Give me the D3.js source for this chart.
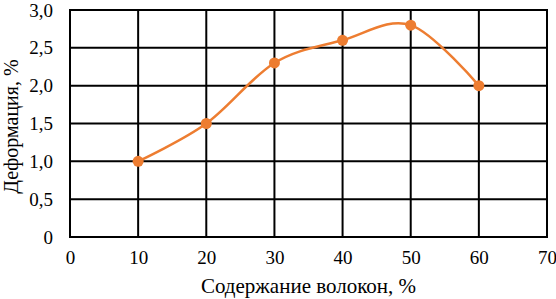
<!DOCTYPE html>
<html><head><meta charset="utf-8">
<script src="https://cdn.jsdelivr.net/npm/d3@7/dist/d3.min.js"></script>
</head><body style="margin:0;background:#fff">
<svg id="c" width="556" height="299"></svg>
<script>
const xValues = [10, 20, 30, 40, 50, 60];
const yValues = [1.0, 1.5, 2.3, 2.6, 2.8, 2.0];
const xTicks = [0, 10, 20, 30, 40, 50, 60, 70];
const yTicks = [0, 0.5, 1.0, 1.5, 2.0, 2.5, 3.0];
const xTitle = "Содержание волокон, %";
const yTitle = "Деформация, %";

const FONT = '"Liberation Serif", "Times New Roman", serif';
const svg = d3.select("#c");
const m = {l: 70, r: 9, t: 10, b: 62};
const W = 556, H = 299;
const x = d3.scaleLinear().domain([0, 70]).range([m.l, W - m.r]);
const y = d3.scaleLinear().domain([0, 3]).range([H - m.b, m.t]);
const fmt = v => v === 0 ? "0" : d3.format(".1f")(v).replace(".", ",");

const g = svg.append("g");
g.selectAll(".gx").data(xTicks).join("line")
  .attr("x1", d => x(d)).attr("x2", d => x(d))
  .attr("y1", y(0)).attr("y2", y(3))
  .attr("stroke", "#000").attr("stroke-width", 2);
g.selectAll(".gy").data(yTicks).join("line")
  .attr("y1", d => y(d)).attr("y2", d => y(d))
  .attr("x1", x(0) - 1).attr("x2", x(70) + 1)
  .attr("stroke", "#000").attr("stroke-width", 2);

const xa = svg.append("g").attr("transform", `translate(0,${y(0)})`)
  .call(d3.axisBottom(x).tickValues(xTicks).tickSize(0).tickPadding(14).tickFormat(d => d));
const ya = svg.append("g").attr("transform", `translate(${x(0)},0)`)
  .call(d3.axisLeft(y).tickValues(yTicks).tickSize(0).tickPadding(17).tickFormat(fmt));
[xa, ya].forEach(a => {
  a.select(".domain").remove();
  a.attr("font-family", null).attr("font-size", null);
  a.selectAll("text").style("font-family", FONT).style("font-size", "19px").attr("fill", "#000");
});

const pts = xValues.map((v, i) => [v, yValues[i]]);
svg.append("path").datum(pts)
  .attr("d", d3.line().x(d => x(d[0])).y(d => y(d[1])).curve(d3.curveCardinal.tension(0)))
  .attr("fill", "none").attr("stroke", "#ED7D31").attr("stroke-width", 2.5);
svg.selectAll(".pt").data(pts).join("circle")
  .attr("cx", d => x(d[0])).attr("cy", d => y(d[1])).attr("r", 5.5)
  .attr("fill", "#ED7D31");

svg.append("text").attr("x", (x(0) + x(70)) / 2).attr("y", 293)
  .attr("text-anchor", "middle").style("font-family", FONT).style("font-size", "21px").text(xTitle);
svg.append("text").attr("transform", `translate(18,${(y(0) + y(3)) / 2 + 3}) rotate(-90)`)
  .attr("text-anchor", "middle").style("font-family", FONT).style("font-size", "20px").text(yTitle);
</script>
</body></html>
